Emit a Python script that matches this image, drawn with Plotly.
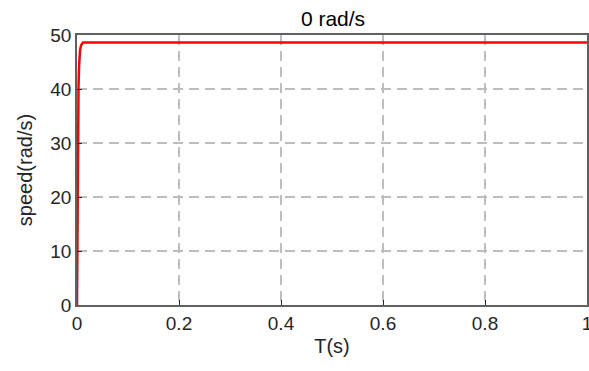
import plotly.graph_objects as go

t = [0, 0.0005, 0.001, 0.0015, 0.002, 0.003, 0.004, 0.005, 0.006, 0.008, 0.010, 0.012, 0.015, 0.02, 0.5, 1.0]
speed = [0, 10, 20, 28, 34, 40.5, 44, 46, 47.2, 48.1, 48.5, 48.6, 48.6, 48.6, 48.6, 48.6]

x_ticks = [0, 0.2, 0.4, 0.6, 0.8, 1]
x_labels = ["0", "0.2", "0.4", "0.6", "0.8", "1"]
y_ticks = [0, 10, 20, 30, 40, 50]

fig = go.Figure()
fig.add_trace(go.Scatter(x=t, y=speed, mode="lines",
                         line=dict(color="#ff0000", width=2.5), showlegend=False,
                         cliponaxis=False))

axis_common = dict(
    showline=True, linecolor="#606060", linewidth=1.5, mirror=True,
    ticks="inside", ticklen=5, tickcolor="#262626",
    showgrid=True, gridcolor="#bdbdbd", griddash="10px,6px", gridwidth=1.5,
    zeroline=False, automargin=False, ticklabeloverflow="allow",
    tickfont=dict(family="Liberation Sans, Arial", size=19, color="#262626"),
)

fig.update_layout(
    width=589, height=371,
    margin=dict(l=77, r=2, t=35, b=66),
    paper_bgcolor="white", plot_bgcolor="white",
    font=dict(family="Liberation Sans, Arial", color="#262626"),
    title=dict(text="0 rad/s", x=333 / 589, xref="container", xanchor="center",
               yref="container", y=1 - 19 / 371, yanchor="middle",
               font=dict(size=21, color="#000000")),
    xaxis=dict(range=[0, 1], tickvals=x_ticks, ticktext=x_labels,
               title=dict(text="T(s)", font=dict(size=20, color="#262626"), standoff=6),
               **axis_common),
    yaxis=dict(range=[0, 50], tickvals=y_ticks,
               title=dict(text="speed(rad/s)", font=dict(size=20, color="#262626"), standoff=12),
               **axis_common),
)

fig.write_html("out.html", config={"displayModeBar": False},
               post_script="document.body.style.margin='0';document.body.style.overflow='hidden';")
